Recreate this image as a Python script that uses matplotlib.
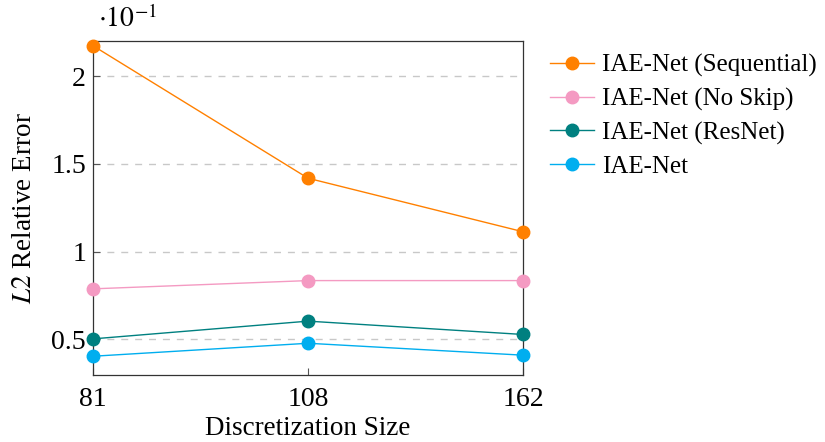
import matplotlib
matplotlib.use('Agg')
from matplotlib import pyplot as plt

# discretization sizes (plotted as evenly spaced categories)
sizes = ['81', '108', '162']

err_sequential = [0.2173, 0.1418, 0.1113]
err_noskip = [0.0788, 0.0835, 0.0835]
err_resnet = [0.0503, 0.0604, 0.0528]
err_iaenet = [0.0404, 0.0478, 0.0410]

series = [
    ('IAE-Net (Sequential)', err_sequential, '#FF8000'),
    ('IAE-Net (No Skip)', err_noskip, '#F49AC2'),
    ('IAE-Net (ResNet)', err_resnet, '#008080'),
    ('IAE-Net', err_iaenet, '#00AEEF'),
]

plt.rcParams['font.family'] = ['Liberation Serif', 'DejaVu Serif']
plt.rcParams['mathtext.fontset'] = 'stix'

fig = plt.figure(figsize=(8.25, 4.42), dpi=100)
ax = fig.add_axes([0.1127, 0.1527, 0.5215, 0.7546])

xs = list(range(len(sizes)))
for label, vals, color in series:
    ax.plot(xs, [v * 10 for v in vals], color=color, linewidth=1.0,
            marker='o', markersize=9, label=label, clip_on=False, zorder=3)

ax.set_xlim(0, len(sizes) - 1)
ax.set_ylim(0.30, 2.20)
ax.set_xticks(xs)
ax.set_xticklabels(sizes)
ax.set_yticks([0.5, 1, 1.5, 2])
ax.set_yticklabels(['0.5', '1', '1.5', '2'])
ax.yaxis.grid(True, linestyle=(0, (5, 5)), color='#c8c8c8', linewidth=1.0)
ax.tick_params(axis='both', labelsize=20, direction='in', length=5,
               color='#555555', width=0.8)
ax.tick_params(axis='x', pad=9)
ax.tick_params(axis='y', pad=5)
for s in ax.spines.values():
    s.set_color('#333333')
    s.set_linewidth(0.9)

ax.text(0.012, 1.025, r'$\cdot10^{-1}$', transform=ax.transAxes,
        fontsize=20, ha='left', va='bottom')
ax.set_xlabel('Discretization Size', fontsize=19.5, labelpad=3)
ax.set_ylabel(r'$L2$ Relative Error', fontsize=19.5, labelpad=10)

ax.legend(loc='upper left', bbox_to_anchor=(1.04, 0.99), frameon=False,
          fontsize=18, handlelength=1.75, handletextpad=0.3,
          labelspacing=0.42, borderaxespad=0.0)

fig.savefig('out.png', dpi=100)
